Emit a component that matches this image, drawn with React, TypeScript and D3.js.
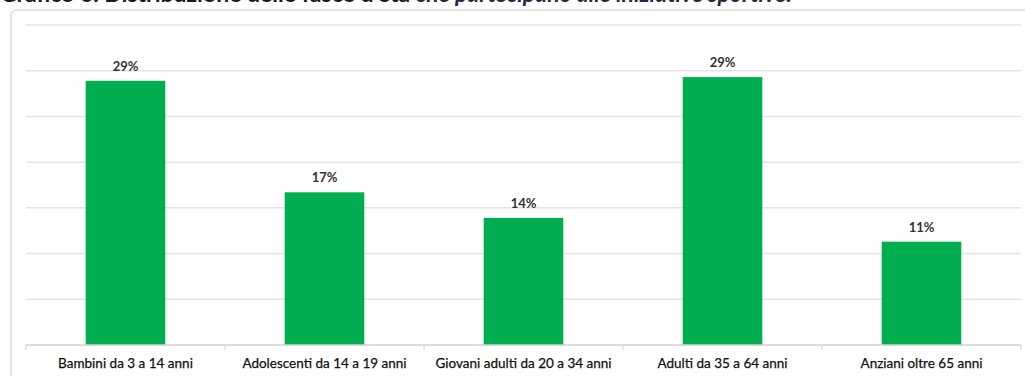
import React from "react";
import * as d3 from "d3";

const categories = [
  "Bambini da 3 a 14 anni",
  "Adolescenti da 14 a 19 anni",
  "Giovani adulti da 20 a 34 anni",
  "Adulti da 35 a 64 anni",
  "Anziani oltre 65 anni",
];
const values = [28.9, 16.7, 13.9, 29.3, 11.3];
const valueLabels = ["29%", "17%", "14%", "29%", "11%"];
const gridTicks = [0, 5, 10, 15, 20, 25, 30, 35];

const W = 1025;
const H = 376;

export default function App() {
  const x = d3.scaleBand<string>().domain(categories).range([26, 1021]).paddingInner(0.6).paddingOuter(0.3);
  const y = d3.scaleLinear().domain([0, 35]).range([345, 25]);
  const bw = x.step();
  const font = "Lato, 'Open Sans', sans-serif";
  return (
    <div style={{ position: "absolute", left: 0, top: 0 }}>
      <svg width={W} height={H} style={{ display: "block" }}>
        <rect x={0} y={0} width={W} height={H} fill="#fff" />
        <text x={0} y={1.5} fontFamily={font} fontSize={23} fontWeight="bold" fill="#1a1a1a">
          Grafico 6. Distribuzione delle fasce d'età{" "}
          <tspan fontStyle="italic" fill="#1f2a44">che partecipano alle iniziative sportive.</tspan>
        </text>
        <rect x={11} y={10} width={1030} height={380} rx={5} fill="none" stroke="#d9d9d9" strokeWidth={1.5} />
        {gridTicks.filter((t) => t > 0).map((t) => (
          <line key={t} x1={26} x2={1021} y1={y(t)} y2={y(t)} stroke="#e3e3e3" strokeWidth={1.5} />
        ))}
        {categories.map((c, i) => (
          <rect key={c} x={x(c)!} y={y(values[i])} width={x.bandwidth()} height={y(0) - y(values[i])} fill="#00ae4f" />
        ))}
        <line x1={26} x2={1021} y1={y(0)} y2={y(0)} stroke="#d0d0d0" strokeWidth={1.5} />
        {d3.range(categories.length + 1).map((i) => {
          const tx = 26 + i * bw;
          return <line key={i} x1={tx} x2={tx} y1={y(0)} y2={y(0) + 5} stroke="#d0d0d0" strokeWidth={1} />;
        })}
        {categories.map((c, i) => (
          <text key={"v" + c} x={x(c)! + x.bandwidth() / 2} y={y(values[i]) - 10} textAnchor="middle" fontFamily={font} fontSize={13} fontWeight="bold" fill="#333">
            {valueLabels[i]}
          </text>
        ))}
        {categories.map((c) => (
          <text key={"c" + c} x={x(c)! + x.bandwidth() / 2} y={368} textAnchor="middle" fontFamily={font} fontSize={13.5} fill="#111" stroke="#111" strokeWidth={0.25}>
            {c}
          </text>
        ))}
      </svg>
    </div>
  );
}
